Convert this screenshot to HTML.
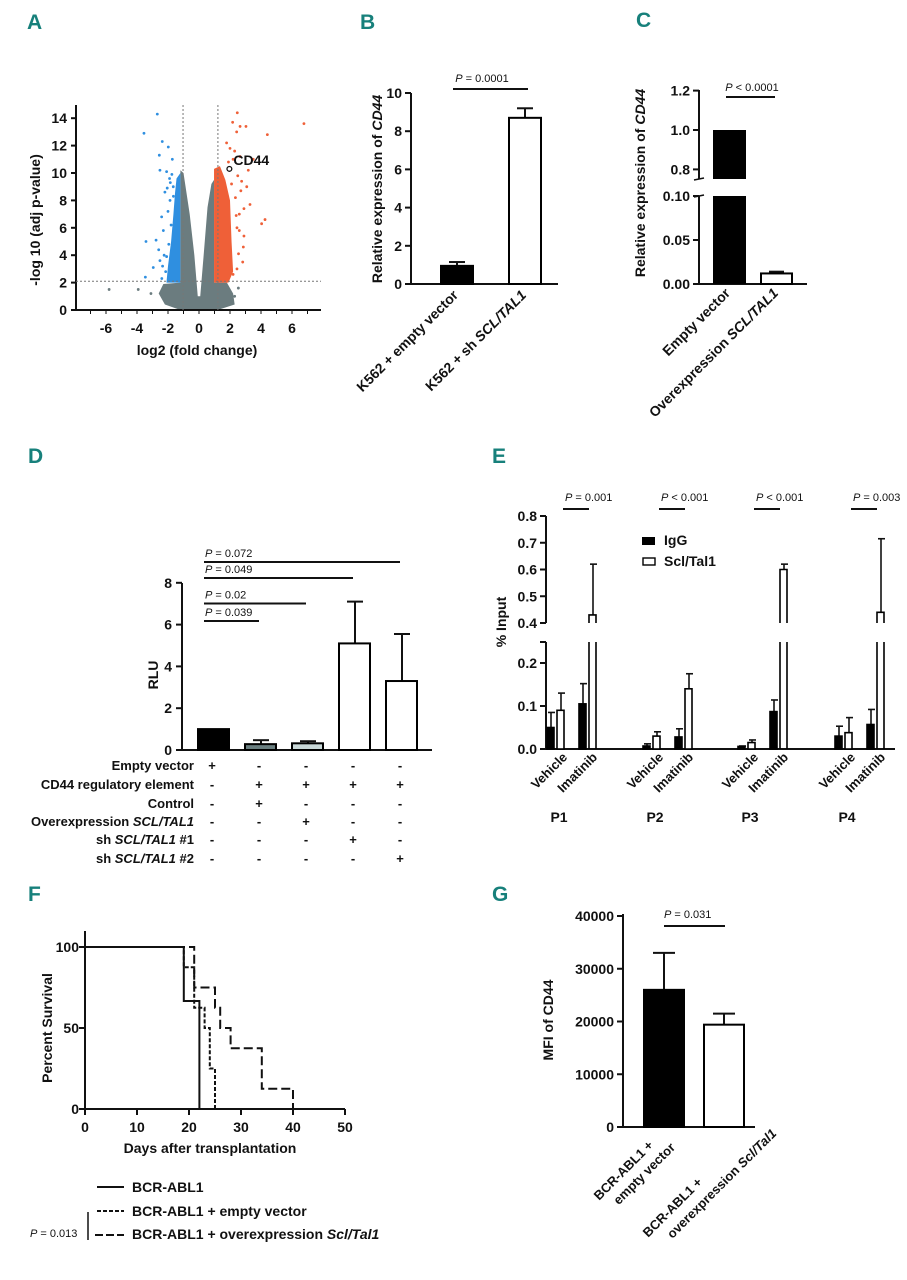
<!DOCTYPE html>
<html><head><meta charset="utf-8"><style>
html,body{margin:0;padding:0;background:#fff;}
svg{display:block;font-family:"Liberation Sans",sans-serif;}
.lt{font-weight:bold;fill:#17807b;font-size:21px;}
.tk{font-weight:bold;font-size:14px;fill:#111;}
.tks{font-weight:bold;font-size:13px;fill:#111;}
.ax{font-weight:bold;font-size:14px;fill:#111;}
.pv{font-size:11px;fill:#111;}
</style></head><body>
<svg id="fig" width="907" height="1280" viewBox="0 0 907 1280" xmlns="http://www.w3.org/2000/svg">
<text class="lt" x="27" y="29">A</text>
<text class="lt" x="360" y="29">B</text>
<text class="lt" x="636" y="27">C</text>
<text class="lt" x="28" y="463">D</text>
<text class="lt" x="492" y="463">E</text>
<text class="lt" x="28" y="901">F</text>
<text class="lt" x="492" y="901">G</text>
</svg>
<script>
// ---------- Panel A data ----------
const aXTicks = [-6,-4,-2,0,2,4,6];
const aYTicks = [0,2,4,6,8,10,12,14];
const aBlueX = [-2.69,-3.55,-2.37,-1.98,-2.56,-1.72,-2.52,-2.09,-3.42,-2.77,-3.46,-2.95,-2.3,-2.41,-1.87,-1.66,-2.09,-2.52,-1.9,-2.2,-2.0,-1.8,-2.6,-2.15,-1.95,-2.35,-1.75,-1.85,-2.05,-1.65,-2.4,-2.25];
const aBlueY = [14.3,12.9,12.3,11.9,11.3,11.0,10.2,10.1,5.0,5.1,2.4,3.1,5.8,6.8,8.0,9.0,3.9,3.6,9.6,8.6,7.2,6.2,4.4,2.8,4.8,3.2,9.9,9.3,8.9,8.3,2.3,4.0];
const aRedX = [2.47,2.17,3.03,2.65,4.41,6.77,2.43,1.78,2.65,3.29,4.26,4.04,3.5,2.86,2.82,2.2,3.08,3.18,2.5,2.7,2.9,2.4,2.6,2.55,2.3,2.75,2.45,2.9,2.0,2.2,1.9,2.1,2.35,2.6,2.45];
const aRedY = [14.4,13.7,13.4,13.4,12.8,13.6,13.0,12.2,11.2,7.7,6.6,6.3,11.0,4.6,3.5,2.6,9.0,10.2,9.8,8.7,7.4,6.9,5.8,4.1,11.6,9.4,3.0,5.4,11.8,11.0,10.8,9.2,8.2,7.0,6.0];
const aGrayX = [-5.8,-3.92,2.54,-3.1,2.3];
const aGrayY = [1.5,1.5,1.6,1.2,1.0];
const aCD44 = [1.96,10.3];
// ---------- Panel B ----------
const bCats = ["K562 + empty vector","K562 + sh SCL/TAL1"];
const bVals = [0.95,8.7];
const bErr = [1.15,9.2];
const bTicks = [0,2,4,6,8,10];
// ---------- Panel C ----------
const cCats = ["Empty vector","Overexpression SCL/TAL1"];
const cVals = [1.0,0.012];
const cErr = [1.0,0.014];
const cTicksLow = [0.00,0.05,0.10];
const cTicksHigh = [0.8,1.0,1.2];
// ---------- Panel D ----------
const dVals = [1.0,0.28,0.32,5.1,3.3];
const dErr = [1.0,0.47,0.42,7.1,5.55];
const dTicks = [0,2,4,6,8];
const dRows = ["Empty vector","CD44 regulatory element","Control","Overexpression SCL/TAL1","sh SCL/TAL1 #1","sh SCL/TAL1 #2"];
const dSigns = [["+","-","-","-","-"],["-","+","+","+","+"],["-","+","-","-","-"],["-","-","+","-","-"],["-","-","-","+","-"],["-","-","-","-","+"]];
const dPvals = ["P = 0.072","P = 0.049","P = 0.02","P = 0.039"];
const dPto = [4,3,2,1];
// ---------- Panel E ----------
const eGroups = ["P1","P2","P3","P4"];
const eIgGVeh = [0.05,0.007,0.006,0.03];
const eIgGVehErr = [0.085,0.012,0.007,0.053];
const eSclVeh = [0.09,0.03,0.015,0.038];
const eSclVehErr = [0.13,0.04,0.021,0.073];
const eIgGIm = [0.105,0.028,0.087,0.057];
const eIgGImErr = [0.152,0.047,0.114,0.092];
const eSclIm = [0.43,0.14,0.60,0.44];
const eSclImErr = [0.62,0.175,0.62,0.715];
const ePvals = ["P = 0.001","P < 0.001","P < 0.001","P = 0.003"];
const eTicksLow = [0.0,0.1,0.2];
const eTicksHigh = [0.4,0.5,0.6,0.7,0.8];
// ---------- Panel F ----------
const fXTicks = [0,10,20,30,40,50];
const fYTicks = [0,50,100];
const fSolidT = [0,19,22];
const fSolidS = [100,66.7,0];
const fEmptyT = [0,19,21,23,24,25];
const fEmptyS = [100,87.5,62.5,50,25,0];
const fOverT = [0,21,25,26,28,34,40];
const fOverS = [100,75,62.5,50,37.5,12.5,0];
// ---------- Panel G ----------
const gVals = [26000,19400];
const gErr = [33000,21500];
const gTicks = [0,10000,20000,30000,40000];

const NS="http://www.w3.org/2000/svg";
const svg=document.getElementById('fig');
function add(tag,attrs,name,parent){
  const el=document.createElementNS(NS,tag);
  for(const k in attrs) el.setAttribute(k,attrs[k]);
  
  
  (parent||svg).appendChild(el);
  return el;
}
function line(x1,y1,x2,y2,name,extra){
  const a={x1:x1,y1:y1,x2:x2,y2:y2,stroke:'#111','stroke-width':2};
  if(extra) for(const k in extra) a[k]=extra[k];
  return add('line',a,name);
}
function txt(x,y,s,cls,name,anchor,extra){
  const a={x:x,y:y,class:cls,'text-anchor':anchor||'start'};
  if(extra) for(const k in extra) a[k]=extra[k];
  const t=add('text',a,name);
  t.textContent=s;
  return t;
}
function rich(x,y,parts,cls,name,anchor,extra){
  const a={x:x,y:y,class:cls,'text-anchor':anchor||'start'};
  if(extra) for(const k in extra) a[k]=extra[k];
  const t=add('text',a,name);
  parts.forEach(p=>{const s=document.createElementNS(NS,'tspan');s.textContent=p[0];if(p[1])s.setAttribute('font-style','italic');t.appendChild(s);});
  return t;
}
function italicize(s){
  const m=s.match(/^(.*?)(SCL\/TAL1|Scl\/Tal1)(.*)$/);
  return m?[[m[1]],[m[2],1],[m[3]]]:[[s]];
}

// ================= Panel A =================
const ax=x=>199+x*15.5, ay=y=>310-y*13.7;
function poly(pts,fill,name){add('polygon',{points:pts.map(p=>ax(p[0])+','+ay(p[1])).join(' '),fill:fill},name);}
poly([[-1.2,10.2],[-1.0,10.0],[-0.6,7],[-0.3,4],[-0.08,1.0],[0.08,1.0],[0.3,4],[0.55,7.5],[0.8,9.2],[0.97,9.5],[0.97,2],[1.8,2],[2.2,1.2],[2.3,0.4],[1.2,0],[-1.2,0],[-2.2,0.4],[-2.6,1.2],[-2.3,1.9],[-1.2,2]],'#6b7c7f','a-gray-dense');
poly([[-1.2,2],[-1.2,10.0],[-1.45,9.6],[-1.55,8.5],[-1.65,7],[-1.8,5],[-2.0,3.2],[-2.1,2]],'#2f8fe0','a-blue-dense');
poly([[0.97,2],[0.97,10.3],[1.35,10.5],[1.7,9.5],[2.0,8],[2.1,5],[2.2,2.8],[1.9,2]],'#ef6038','a-red-dense');
line(76,105,76,311,'a-y-axis');
line(75,310,321,310,'a-x-axis');
for(let v=-7;v<=7;v++){line(ax(v),310,ax(v),314,'a-x-minor-tick',{'stroke-width':1});}
aXTicks.forEach(v=>txt(ax(v),333,String(v),'tk','a-x-tick-label','middle'));
aYTicks.forEach(v=>{line(71,ay(v),76,ay(v),'a-y-tick');txt(67,ay(v)+5,String(v),'tk','a-y-tick-label','end');});
txt(197,355,'log2 (fold change)','ax','a-x-axis-title','middle');
txt(40,220,'-log 10 (adj p-value)','ax','a-y-axis-title','middle',{transform:'rotate(-90 40 220)'});
line(ax(-1.03),105,ax(-1.03),310,'a-threshold-left',{stroke:'#777','stroke-width':1,'stroke-dasharray':'2,2'});
line(ax(1.22),105,ax(1.22),310,'a-threshold-right',{stroke:'#777','stroke-width':1,'stroke-dasharray':'2,2'});
line(76,ay(2.1),321,ay(2.1),'a-threshold-p',{stroke:'#777','stroke-width':1,'stroke-dasharray':'2,2'});
aBlueX.forEach((x,i)=>add('circle',{cx:ax(x),cy:ay(aBlueY[i]),r:1.4,fill:'#2f8fe0'},'a-point-down'));
aRedX.forEach((x,i)=>add('circle',{cx:ax(x),cy:ay(aRedY[i]),r:1.4,fill:'#ef6038'},'a-point-up'));
aGrayX.forEach((x,i)=>add('circle',{cx:ax(x),cy:ay(aGrayY[i]),r:1.4,fill:'#6b7c7f'},'a-point-ns'));
add('circle',{cx:ax(aCD44[0]),cy:ay(aCD44[1]),r:2.4,fill:'none',stroke:'#111','stroke-width':1.3},'a-cd44-point');
txt(ax(aCD44[0])+4,ay(aCD44[1])-4,'CD44','tk','a-cd44-label','start');

// ================= Panel B =================
const by=v=>284-v*19.1;
line(411,93,411,285,'b-y-axis');
line(410,284,558,284,'b-x-axis');
bTicks.forEach(v=>{line(405,by(v),411,by(v),'b-y-tick');txt(402,by(v)+5,String(v),'tk','b-y-tick-label','end');});
const bX=[441,509];
bVals.forEach((v,i)=>{
  line(bX[i]+16,by(bErr[i]),bX[i]+16,by(v),'b-error-bar');
  line(bX[i]+8,by(bErr[i]),bX[i]+24,by(bErr[i]),'b-error-cap');
  add('rect',{x:bX[i],y:by(v),width:32,height:by(0)-by(v),fill:i?'#fff':'#000',stroke:'#000','stroke-width':2},'b-bar-'+(i+1));
});
line(453,89,528,89,'b-sig-line');
rich(482,82,[['P',1],[' = 0.0001']],'pv','b-p-value','middle');
rich(382,189,[['Relative expression of '],['CD44',1]],'ax','b-y-axis-title','middle',{transform:'rotate(-90 382 189)','font-weight':'normal'});
bCats.forEach((c,i)=>{const x=bX[i]+18,y=296;rich(x,y,italicize(c),'ax','b-x-label','end',{transform:`rotate(-45 ${x} ${y})`,'font-weight':'normal'});});

// ================= Panel C =================
const cyl=v=>284-v*880, cyh=v=>130-(v-1)*197;
line(699,90,699,179,'c-y-axis-upper');
line(699,196,699,285,'c-y-axis-lower');
line(694,180,704,178,'c-axis-break',{'stroke-width':1.5});
line(694,197,704,195,'c-axis-break',{'stroke-width':1.5});
line(698,284,807,284,'c-x-axis');
cTicksLow.forEach(v=>{line(693,cyl(v),699,cyl(v),'c-y-tick');txt(690,cyl(v)+5,v.toFixed(2),'tk','c-y-tick-label','end');});
cTicksHigh.forEach(v=>{line(693,cyh(v),699,cyh(v),'c-y-tick');txt(690,cyh(v)+5,v.toFixed(1),'tk','c-y-tick-label','end');});
add('rect',{x:713,y:cyh(cVals[0]),width:33,height:179-cyh(cVals[0]),fill:'#000'},'c-bar-1-upper');
add('rect',{x:713,y:196,width:33,height:88,fill:'#000'},'c-bar-1-lower');
line(776.5,cyl(cErr[1]),776.5,cyl(cVals[1]),'c-error-bar');
line(769,cyl(cErr[1]),784,cyl(cErr[1]),'c-error-cap');
add('rect',{x:761,y:cyl(cVals[1]),width:31,height:284-cyl(cVals[1]),fill:'#fff',stroke:'#000','stroke-width':2},'c-bar-2');
line(726,97,775,97,'c-sig-line');
rich(752,91,[['P',1],[' < 0.0001']],'pv','c-p-value','middle');
rich(645,183,[['Relative expression of '],['CD44',1]],'ax','c-y-axis-title','middle',{transform:'rotate(-90 645 183)','font-weight':'normal'});
const cX=[731,779];
cCats.forEach((c,i)=>{const x=cX[i],y=294;rich(x,y,italicize(c),'ax','c-x-label','end',{transform:`rotate(-45 ${x} ${y})`,'font-weight':'normal'});});

// ================= Panel D =================
const dy=v=>750-v*20.9;
const dX=[198,245,292,339,386];
line(182,583,182,751,'d-y-axis');
line(181,750,432,750,'d-x-axis');
dTicks.forEach(v=>{line(176,dy(v),182,dy(v),'d-y-tick');txt(172,dy(v)+5,String(v),'tk','d-y-tick-label','end');});
const dFill=['#000','#6a7f80','#c9d8d8','#fff','#fff'];
dVals.forEach((v,i)=>{
  if(i>0){line(dX[i]+16,dy(dErr[i]),dX[i]+16,dy(v),'d-error-bar');line(dX[i]+8,dy(dErr[i]),dX[i]+24,dy(dErr[i]),'d-error-cap');}
  add('rect',{x:dX[i],y:dy(v),width:31,height:dy(0)-dy(v),fill:dFill[i],stroke:'#000','stroke-width':2},'d-bar-'+(i+1));
});
const dLineY=[562,578,603.5,621];
dPvals.forEach((p,i)=>{
  line(204,dLineY[i],dX[dPto[i]]+14,dLineY[i],'d-sig-line');
  rich(205,dLineY[i]-5,[['P',1],[p.slice(1)]],'pv','d-p-value','start');
});
txt(158,675,'RLU','ax','d-y-axis-title','middle',{transform:'rotate(-90 158 675)'});
const dRowY=[770,789,808,826,844,863];
dRows.forEach((r,j)=>{
  rich(194,dRowY[j],italicize(r),'tks','d-row-label','end');
  dSigns[j].forEach((s,i)=>txt(dX[i]+14,dRowY[j],s,'tks','d-row-sign','middle'));
});

// ================= Panel E =================
const eyl=v=>749-v*430, eyh=v=>623-(v-0.4)*267.5;
line(546,516,546,623,'e-y-axis-upper');
line(546,642,546,750,'e-y-axis-lower');
line(545,749,895,749,'e-x-axis');
eTicksLow.forEach(v=>{line(540,eyl(v),546,eyl(v),'e-y-tick');txt(537,eyl(v)+5,v.toFixed(1),'tk','e-y-tick-label','end');});
eTicksHigh.forEach(v=>{line(540,eyh(v),546,eyh(v),'e-y-tick');txt(537,eyh(v)+5,v.toFixed(1),'tk','e-y-tick-label','end');});
line(540,642,546,642,'e-axis-break-tick');
const eBase=[547,643,738,835];
function eBar(x,v,e,fill,name){
  const cx=x+4;
  if(v<=0.25){
    line(cx,eyl(e),cx,eyl(v),name+'-error',{'stroke-width':1.6});
    line(cx-3,eyl(e),cx+4,eyl(e),name+'-error-cap',{'stroke-width':1.6});
    add('rect',{x:x,y:eyl(v),width:7,height:749-eyl(v),fill:fill,stroke:'#000','stroke-width':1.6},name);
  } else {
    line(cx,eyh(e),cx,eyh(v),name+'-error',{'stroke-width':1.6});
    line(cx-3,eyh(e),cx+4,eyh(e),name+'-error-cap',{'stroke-width':1.6});
    add('path',{d:`M${x},623 V${eyh(v)} H${x+7} V623 M${x},642 V749 M${x+7},642 V749`,fill:'none',stroke:'#000','stroke-width':1.6},name);
  }
}
eGroups.forEach((g,i)=>{
  const b=eBase[i];
  eBar(b,eIgGVeh[i],eIgGVehErr[i],'#000','e-bar-igg-vehicle');
  eBar(b+10,eSclVeh[i],eSclVehErr[i],'#fff','e-bar-scl-vehicle');
  eBar(b+32,eIgGIm[i],eIgGImErr[i],'#000','e-bar-igg-imatinib');
  eBar(b+42,eSclIm[i],eSclImErr[i],'#fff','e-bar-scl-imatinib');
  line(b+16,509,b+42,509,'e-sig-line');
  rich(b+18,501,[['P',1],[ePvals[i].slice(1)]],'pv','e-p-value','start');
  let x=b+21,y=758;
  txt(x,y,'Vehicle','tks','e-x-label','end',{transform:`rotate(-45 ${x} ${y})`});
  x=b+51;
  txt(x,y,'Imatinib','tks','e-x-label','end',{transform:`rotate(-45 ${x} ${y})`});
  txt(b+12,822,g,'tk','e-group-label','middle');
});
add('rect',{x:642,y:537,width:13,height:8,fill:'#000'},'e-legend-igg-swatch');
txt(664,545,'IgG','tk','e-legend-igg-label');
add('rect',{x:643,y:558,width:12,height:7,fill:'#fff',stroke:'#000','stroke-width':1.4},'e-legend-scl-swatch');
txt(664,566,'Scl/Tal1','tk','e-legend-scl-label');
txt(506,622,'% Input','ax','e-y-axis-title','middle',{transform:'rotate(-90 506 622)'});

// ================= Panel F =================
const fx=d=>85+d*5.2, fy=s=>1109-s*1.62;
line(85,931,85,1110,'f-y-axis');
line(84,1109,345,1109,'f-x-axis');
fXTicks.forEach(v=>{line(fx(v),1109,fx(v),1115,'f-x-tick');txt(fx(v),1132,String(v),'tk','f-x-tick-label','middle');});
fYTicks.forEach(v=>{line(79,fy(v),85,fy(v),'f-y-tick');txt(79,fy(v)+5,String(v),'tk','f-y-tick-label','end');});
function step(T,S){let d=`M${fx(T[0])},${fy(S[0])}`;for(let i=1;i<T.length;i++){d+=` H${fx(T[i])} V${fy(S[i])}`;}return d;}
add('path',{d:step(fOverT,fOverS),fill:'none',stroke:'#111','stroke-width':2,'stroke-dasharray':'9,4'},'f-line-overexpression');
add('path',{d:step(fEmptyT,fEmptyS),fill:'none',stroke:'#111','stroke-width':2,'stroke-dasharray':'4,2'},'f-line-empty-vector');
add('path',{d:step(fSolidT,fSolidS),fill:'none',stroke:'#111','stroke-width':2},'f-line-bcr-abl1');
txt(210,1153,'Days after transplantation','ax','f-x-axis-title','middle');
txt(52,1028,'Percent Survival','ax','f-y-axis-title','middle',{transform:'rotate(-90 52 1028)'});
line(97,1187,124,1187,'f-legend-solid');
txt(132,1192,'BCR-ABL1','ax','f-legend-label');
line(97,1211,124,1211,'f-legend-short-dash',{'stroke-dasharray':'4,2'});
txt(132,1216,'BCR-ABL1 + empty vector','ax','f-legend-label');
line(95,1235,124,1235,'f-legend-long-dash',{'stroke-dasharray':'8,3'});
rich(132,1239,[['BCR-ABL1 + overexpression '],['Scl/Tal1',1]],'ax','f-legend-label');
line(88,1212,88,1240,'f-p-bracket',{'stroke-width':1.5});
rich(30,1237,[['P',1],[' = 0.013']],'pv','f-p-value');

// ================= Panel G =================
const gy=v=>1127-v*0.005275;
line(623,914,623,1128,'g-y-axis');
line(622,1127,755,1127,'g-x-axis');
gTicks.forEach(v=>{line(617,gy(v),623,gy(v),'g-y-tick');txt(614,gy(v)+5,String(v),'tk','g-y-tick-label','end');});
const gX=[644,704];
gVals.forEach((v,i)=>{
  line(gX[i]+20,gy(gErr[i]),gX[i]+20,gy(v),'g-error-bar');
  line(gX[i]+9,gy(gErr[i]),gX[i]+31,gy(gErr[i]),'g-error-cap');
  add('rect',{x:gX[i],y:gy(v),width:40,height:1127-gy(v),fill:i?'#fff':'#000',stroke:'#000','stroke-width':2},'g-bar-'+(i+1));
});
line(664,926,725,926,'g-sig-line');
rich(664,918,[['P',1],[' = 0.031']],'pv','g-p-value');
txt(553,1020,'MFI of CD44','ax','g-y-axis-title','middle',{transform:'rotate(-90 553 1020)'});
(function(){
  let x=654,y=1146;
  const t=txt(x,y,'BCR-ABL1 +','tks','g-x-label','end',{transform:`rotate(-45 ${x} ${y})`});
  const t2=document.createElementNS(NS,'tspan');t2.setAttribute('x',x+14);t2.setAttribute('dy',17);t2.textContent='empty vector';t.appendChild(t2);
  x=703;y=1183;
  const u=txt(x,y,'BCR-ABL1 +','tks','g-x-label','end',{transform:`rotate(-45 ${x} ${y})`});
  const u2=document.createElementNS(NS,'tspan');u2.setAttribute('x',x+87);u2.setAttribute('dy',18);u2.textContent='overexpression ';u.appendChild(u2);
  const u3=document.createElementNS(NS,'tspan');u3.setAttribute('font-style','italic');u3.textContent='Scl/Tal1';u.appendChild(u3);
})();
</script>
</body></html>
